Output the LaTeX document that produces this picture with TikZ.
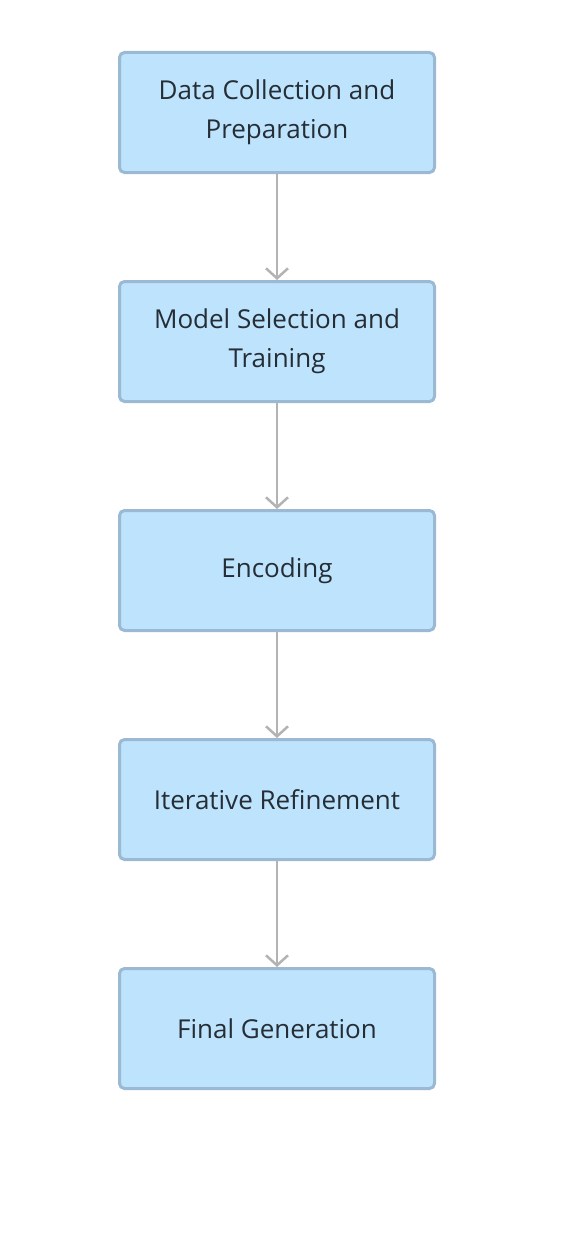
\documentclass[tikz,border=0pt]{standalone}
\usepackage{fontspec}
\setmainfont{Open Sans}
\usetikzlibrary{positioning,arrows.meta}
\definecolor{boxfill}{HTML}{BEE3FD}
\definecolor{boxline}{HTML}{9BB9D2}
\definecolor{flowgray}{HTML}{B3B3B3}
\definecolor{labeltext}{HTML}{252D35}

\begin{document}
\begin{tikzpicture}[x=1pt, y=1pt, node distance=106pt]
    \tikzstyle{stage} = [rectangle, draw=boxline, fill=boxfill, line width=3pt,
                                      rounded corners=5pt, align=center, text=labeltext,
                                      minimum width=315pt, minimum height=120pt,
                                      font=\fontsize{26}{39}\selectfont]
    \tikzstyle{flow} = [-{Straight Barb[length=10pt, width=22pt]}, draw=flowgray, line width=2.5pt]
  \useasboundingbox (0,0) rectangle (560,-1244);
  \node[stage] (collect) at (277,-112.5) {Data Collection and\\Preparation};
  \node[stage, below=of collect] (train){Model Selection and\\Training};
  \node[stage, below=of train] (encode){Encoding};
  \node[stage, below=of encode] (refine){Iterative Refinement};
  \node[stage, below=of refine] (final){Final Generation};
  \draw[flow] (collect) -- (train);
  \draw[flow] (train) -- (encode);
  \draw[flow] (encode) -- (refine);
  \draw[flow] (refine) -- (final);
  \end{tikzpicture}
\end{document}
